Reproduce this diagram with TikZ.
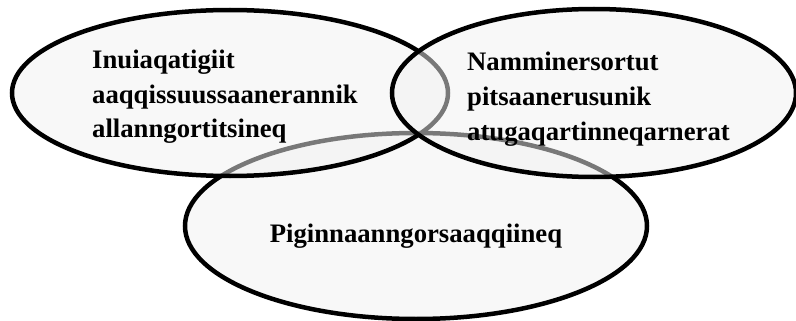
\documentclass[tikz,border=0pt]{standalone}
\usepackage{fontspec}
\setmainfont{Liberation Serif}
\usetikzlibrary{shapes.geometric}
\definecolor{vennfill}{RGB}{241,241,241}
\tikzset{
  venn/.style={ellipse, draw=black, line width=4.5pt, fill=vennfill, fill opacity=0.5, draw opacity=1, inner sep=0pt},
  label/.style={font=\fontsize{26.7}{35}\selectfont\bfseries, align=left, inner sep=0pt, text=black}
}
\begin{document}
\begin{tikzpicture}[x=1pt,y=-1pt]
\useasboundingbox (0,0) rectangle (796,321);
\node[venn, minimum width=462pt, minimum height=186pt] (C) at (416,226) {};
\node[venn, minimum width=436pt, minimum height=166pt] (A) at (230,93) {};
\node[venn, minimum width=404pt, minimum height=168pt] (B) at (594,93) {};
\node[label, anchor=base west] (ta) at (92,138) {Inuiaqatigiit\\aaqqissuussaanerannik\\allanngortitsineq};
\node[label, anchor=base west] (tb) at (467,140) {Namminersortut\\pitsaanerusunik\\atugaqartinneqarnerat};
\node[label, anchor=base] (tc) at (416,242) {Piginnaanngorsaaqqiineq};
\end{tikzpicture}
\end{document}
